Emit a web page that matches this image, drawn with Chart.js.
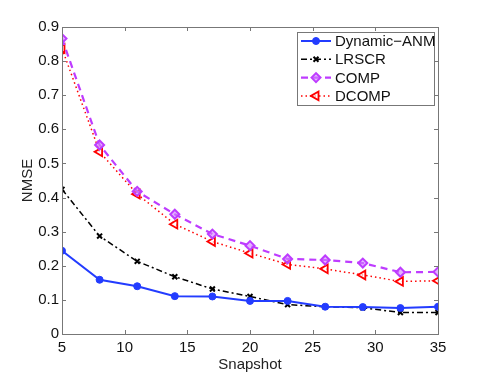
<!DOCTYPE html>
<html>
<head>
<meta charset="utf-8">
<script src="https://cdn.jsdelivr.net/npm/chart.js@4.4.1/dist/chart.umd.min.js"></script>
<style>
  html, body { margin: 0; padding: 0; background: #fff; }
  #chart { display: block; }
</style>
</head>
<body>
<canvas id="chart" width="485" height="376"></canvas>
<script>
const snapshots = [5, 8, 11, 14, 17, 20, 23, 26, 29, 32, 35];
const dynamicAnm = [0.244, 0.159, 0.140, 0.111, 0.110, 0.097, 0.097, 0.080, 0.079, 0.076, 0.080];
const lrscr = [0.424, 0.287, 0.213, 0.168, 0.132, 0.110, 0.086, 0.080, 0.077, 0.063, 0.063];
const comp = [0.866, 0.554, 0.418, 0.351, 0.293, 0.259, 0.220, 0.217, 0.208, 0.181, 0.182];
const dcomp = [0.837, 0.534, 0.410, 0.322, 0.271, 0.237, 0.204, 0.191, 0.173, 0.154, 0.156];
const xTicks = [5, 10, 15, 20, 25, 30, 35];
const yTicks = [0, 0.1, 0.2, 0.3, 0.4, 0.5, 0.6, 0.7, 0.8, 0.9];

const FONT = 'Liberation Sans, Arial, Helvetica, sans-serif';

function pts(vals) {
    return snapshots.map((s, i) => ({x: s, y: vals[i]}));
}

// MATLAB style frame with inward ticks on all four sides + boxed legend
const matlabFrame = {
    id: 'matlabFrame',
    afterDraw(chart) {
        const ctx = chart.ctx;
        const a = chart.chartArea;
        const xs = chart.scales.x, ys = chart.scales.y;
        ctx.save();
        ctx.strokeStyle = '#777';
        ctx.lineWidth = 1;
        ctx.strokeRect(Math.round(a.left) + 0.5, Math.round(a.top) + 0.5,
            Math.round(a.right - a.left), Math.round(a.bottom - a.top));
        ctx.beginPath();
        xTicks.forEach(t => {
            const px = Math.round(xs.getPixelForValue(t)) + 0.5;
            ctx.moveTo(px, a.bottom); ctx.lineTo(px, a.bottom - 4);
            ctx.moveTo(px, a.top); ctx.lineTo(px, a.top + 4);
        });
        yTicks.forEach(t => {
            const py = Math.round(ys.getPixelForValue(t)) + 0.5;
            ctx.moveTo(a.left, py); ctx.lineTo(a.left + 4, py);
            ctx.moveTo(a.right, py); ctx.lineTo(a.right - 4, py);
        });
        ctx.stroke();

        // legend
        const lx = 297, ly = 32, lw = 137, lh = 73;
        ctx.fillStyle = '#fff';
        ctx.fillRect(lx, ly, lw, lh);
        ctx.strokeStyle = '#777';
        ctx.strokeRect(lx + 0.5, ly + 0.5, lw, lh);
        ctx.font = '15px ' + FONT;
        ctx.textBaseline = 'middle';
        chart.data.datasets.forEach((ds, i) => {
            const cy = 41 + i * 18.3;
            ctx.save();
            ctx.strokeStyle = ds.borderColor;
            ctx.lineWidth = ds.borderWidth;
            ctx.setLineDash(ds.borderDash || []);
            ctx.beginPath();
            ctx.moveTo(301, cy); ctx.lineTo(331, cy);
            ctx.stroke();
            ctx.setLineDash([]);
            ctx.fillStyle = ds.pointBackgroundColor;
            ctx.strokeStyle = ds.borderColor;
            ctx.lineWidth = ds.pointBorderWidth;
            Chart.helpers.drawPoint(ctx, {
                pointStyle: ds.pointStyle,
                radius: ds.pointRadius,
                rotation: ds.pointRotation || 0,
                borderWidth: ds.pointBorderWidth
            }, 316, cy);
            ctx.restore();
            ctx.fillStyle = '#111';
            ctx.fillText(ds.label, 335, cy + 1);
        });
        ctx.restore();
    }
};

const config = {
    type: 'line',
    data: {
        datasets: [
            {
                label: 'Dynamic\u2212ANM',
                data: pts(dynamicAnm),
                borderColor: 'rgb(35,60,255)',
                backgroundColor: 'rgb(35,60,255)',
                pointBackgroundColor: 'rgb(35,60,255)',
                borderWidth: 2,
                pointStyle: 'circle',
                pointRadius: 3.5,
                pointBorderWidth: 1,
            },
            {
                label: 'LRSCR',
                data: pts(lrscr),
                borderColor: '#000',
                backgroundColor: '#000',
                pointBackgroundColor: '#000',
                borderWidth: 1.5,
                borderDash: [6, 3, 2, 3],
                pointStyle: 'crossRot',
                pointRadius: 3.5,
                pointBorderWidth: 2,
            },
            {
                label: 'COMP',
                data: pts(comp),
                borderColor: 'rgb(190,60,255)',
                backgroundColor: 'rgb(190,60,255)',
                pointBackgroundColor: 'rgba(210,130,255,0.6)',
                borderWidth: 2.2,
                borderDash: [7, 5],
                pointStyle: 'rectRot',
                pointRadius: 4.5,
                pointBorderWidth: 2,
            },
            {
                label: 'DCOMP',
                data: pts(dcomp),
                borderColor: 'rgb(255,0,0)',
                backgroundColor: 'rgb(255,0,0)',
                pointBackgroundColor: 'rgba(255,255,255,0.6)',
                borderWidth: 1.5,
                borderDash: [1.5, 3],
                pointStyle: 'triangle',
                pointRotation: -90,
                pointRadius: 5,
                pointBorderWidth: 1.8,
            }
        ]
    },
    options: {
        responsive: false,
        animation: false,
        layout: {
            padding: {top: 27, right: 47, bottom: 0, left: 0}
        },
        plugins: {
            legend: {display: false},
            tooltip: {enabled: false}
        },
        elements: {
            line: {tension: 0}
        },
        scales: {
            x: {
                type: 'linear',
                min: 5,
                max: 35,
                afterBuildTicks: s => { s.ticks = xTicks.map(v => ({value: v})); },
                afterFit: s => { s.height = 42; },
                grid: {display: false, drawTicks: false},
                border: {display: false},
                ticks: {
                    color: '#111',
                    padding: 5,
                    font: {family: FONT, size: 15}
                },
                title: {
                    display: true,
                    text: 'Snapshot',
                    color: '#222',
                    padding: {top: 2, bottom: 2},
                    font: {family: FONT, size: 15}
                }
            },
            y: {
                type: 'linear',
                min: 0,
                max: 0.9,
                afterBuildTicks: s => { s.ticks = yTicks.map(v => ({value: v})); },
                afterFit: s => { s.width = 62; },
                grid: {display: false, drawTicks: false},
                border: {display: false},
                ticks: {
                    color: '#111',
                    padding: 3,
                    font: {family: FONT, size: 15},
                    callback: v => String(v)
                },
                title: {
                    display: true,
                    text: 'NMSE',
                    color: '#222',
                    padding: {top: 19, bottom: 4},
                    font: {family: FONT, size: 15}
                }
            }
        }
    },
    plugins: [matlabFrame]
};

let myChart = new Chart(document.getElementById('chart'), config);
</script>
</body>
</html>
